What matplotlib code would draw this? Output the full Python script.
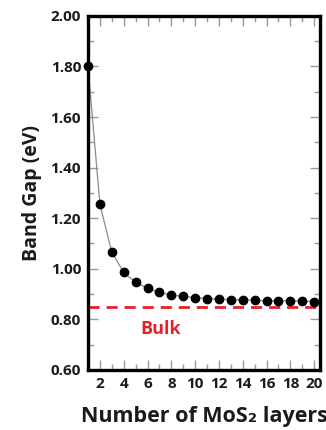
import matplotlib
matplotlib.use("Agg")
import matplotlib.pyplot as plt
from matplotlib.ticker import MultipleLocator, FixedLocator

# band gap vs number of layers
layers = list(range(1, 21))
band_gap = [1.80, 1.254, 1.065, 0.985, 0.946, 0.922, 0.906, 0.896, 0.890, 0.886,
            0.882, 0.880, 0.878, 0.877, 0.876, 0.872, 0.874, 0.873, 0.872, 0.870]
bulk_gap = 0.85
x_ticks = list(range(2, 21, 2))
y_ticks = [0.60, 0.80, 1.00, 1.20, 1.40, 1.60, 1.80, 2.00]

plt.rcParams['font.family'] = ['Open Sans', 'DejaVu Sans']

fig = plt.figure(figsize=(3.26, 4.30), dpi=100)
ax = fig.add_axes([0.270, 0.140, 0.712, 0.823])

ax.plot(layers, band_gap, color="#8a8a8a", linewidth=0.9, zorder=2)
ax.plot(layers, band_gap, linestyle="none", marker="o", markersize=6,
        color="black", zorder=3, clip_on=False)
ax.axhline(bulk_gap, color="#e8202a", linewidth=2, linestyle=(0, (4, 2.5)), zorder=2)
ax.text(7.1, 0.762, "Bulk", color="#e8202a", fontsize=13, fontweight="bold",
        ha="center", va="center")

ax.set_xlim(1, 20.5)
ax.set_ylim(0.6, 2.0)

ax.xaxis.set_major_locator(FixedLocator(x_ticks))
ax.xaxis.set_minor_locator(MultipleLocator(1))
ax.yaxis.set_major_locator(FixedLocator(y_ticks))
ax.yaxis.set_minor_locator(MultipleLocator(0.1))
ax.set_yticklabels([f"{v:.2f}" for v in y_ticks])

ax.tick_params(which="both", direction="in", top=True, right=True, color="#9a9a9a",
               labelsize=11, labelcolor="#1a1a1a", pad=5)
ax.tick_params(which="major", length=7, width=1)
ax.tick_params(which="minor", length=4, width=1)
for lbl in ax.get_xticklabels() + ax.get_yticklabels():
    lbl.set_fontweight("bold")

for s in ax.spines.values():
    s.set_linewidth(2.4)
    s.set_color("black")

ax.set_ylabel("Band Gap (eV)", fontsize=14, fontweight="bold", color="#1a1a1a", labelpad=6)
ax.set_xlabel("Number of MoS\u2082 layers", fontsize=15.5, fontweight="bold",
              color="#1a1a1a", labelpad=11)

fig.savefig("out.png", dpi=100)
